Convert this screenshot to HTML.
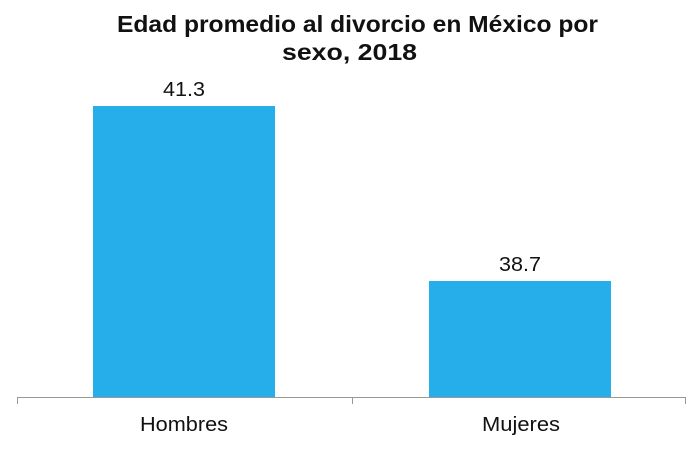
<!DOCTYPE html>
<html><head><style>
body{margin:0;background:#fff;}
svg{display:block;font-family:"Liberation Sans",Arial,sans-serif;}
</style></head><body>
<svg width="700" height="449" viewBox="0 0 700 449">
<text x="117" y="32" font-size="23" font-weight="bold" fill="#111" textLength="481" lengthAdjust="spacingAndGlyphs">Edad promedio al divorcio en México por</text>
<text x="282" y="60" font-size="23" font-weight="bold" fill="#111" textLength="135" lengthAdjust="spacingAndGlyphs">sexo, 2018</text>
<rect x="93" y="106" width="182" height="291" fill="#25aeea"/>
<rect x="429" y="281" width="182" height="116" fill="#25aeea"/>
<text x="163" y="96" font-size="20" fill="#111" textLength="42" lengthAdjust="spacingAndGlyphs">41.3</text>
<text x="499" y="271" font-size="20" fill="#111" textLength="42" lengthAdjust="spacingAndGlyphs">38.7</text>
<path d="M17 397.5H686M17.5 397v7M352.5 397v7M685.5 397v7" stroke="#999" stroke-width="1" fill="none"/>
<text x="140" y="431" font-size="20" fill="#111" textLength="88" lengthAdjust="spacingAndGlyphs">Hombres</text>
<text x="482" y="431" font-size="20" fill="#111" textLength="78" lengthAdjust="spacingAndGlyphs">Mujeres</text>
</svg>
</body></html>
